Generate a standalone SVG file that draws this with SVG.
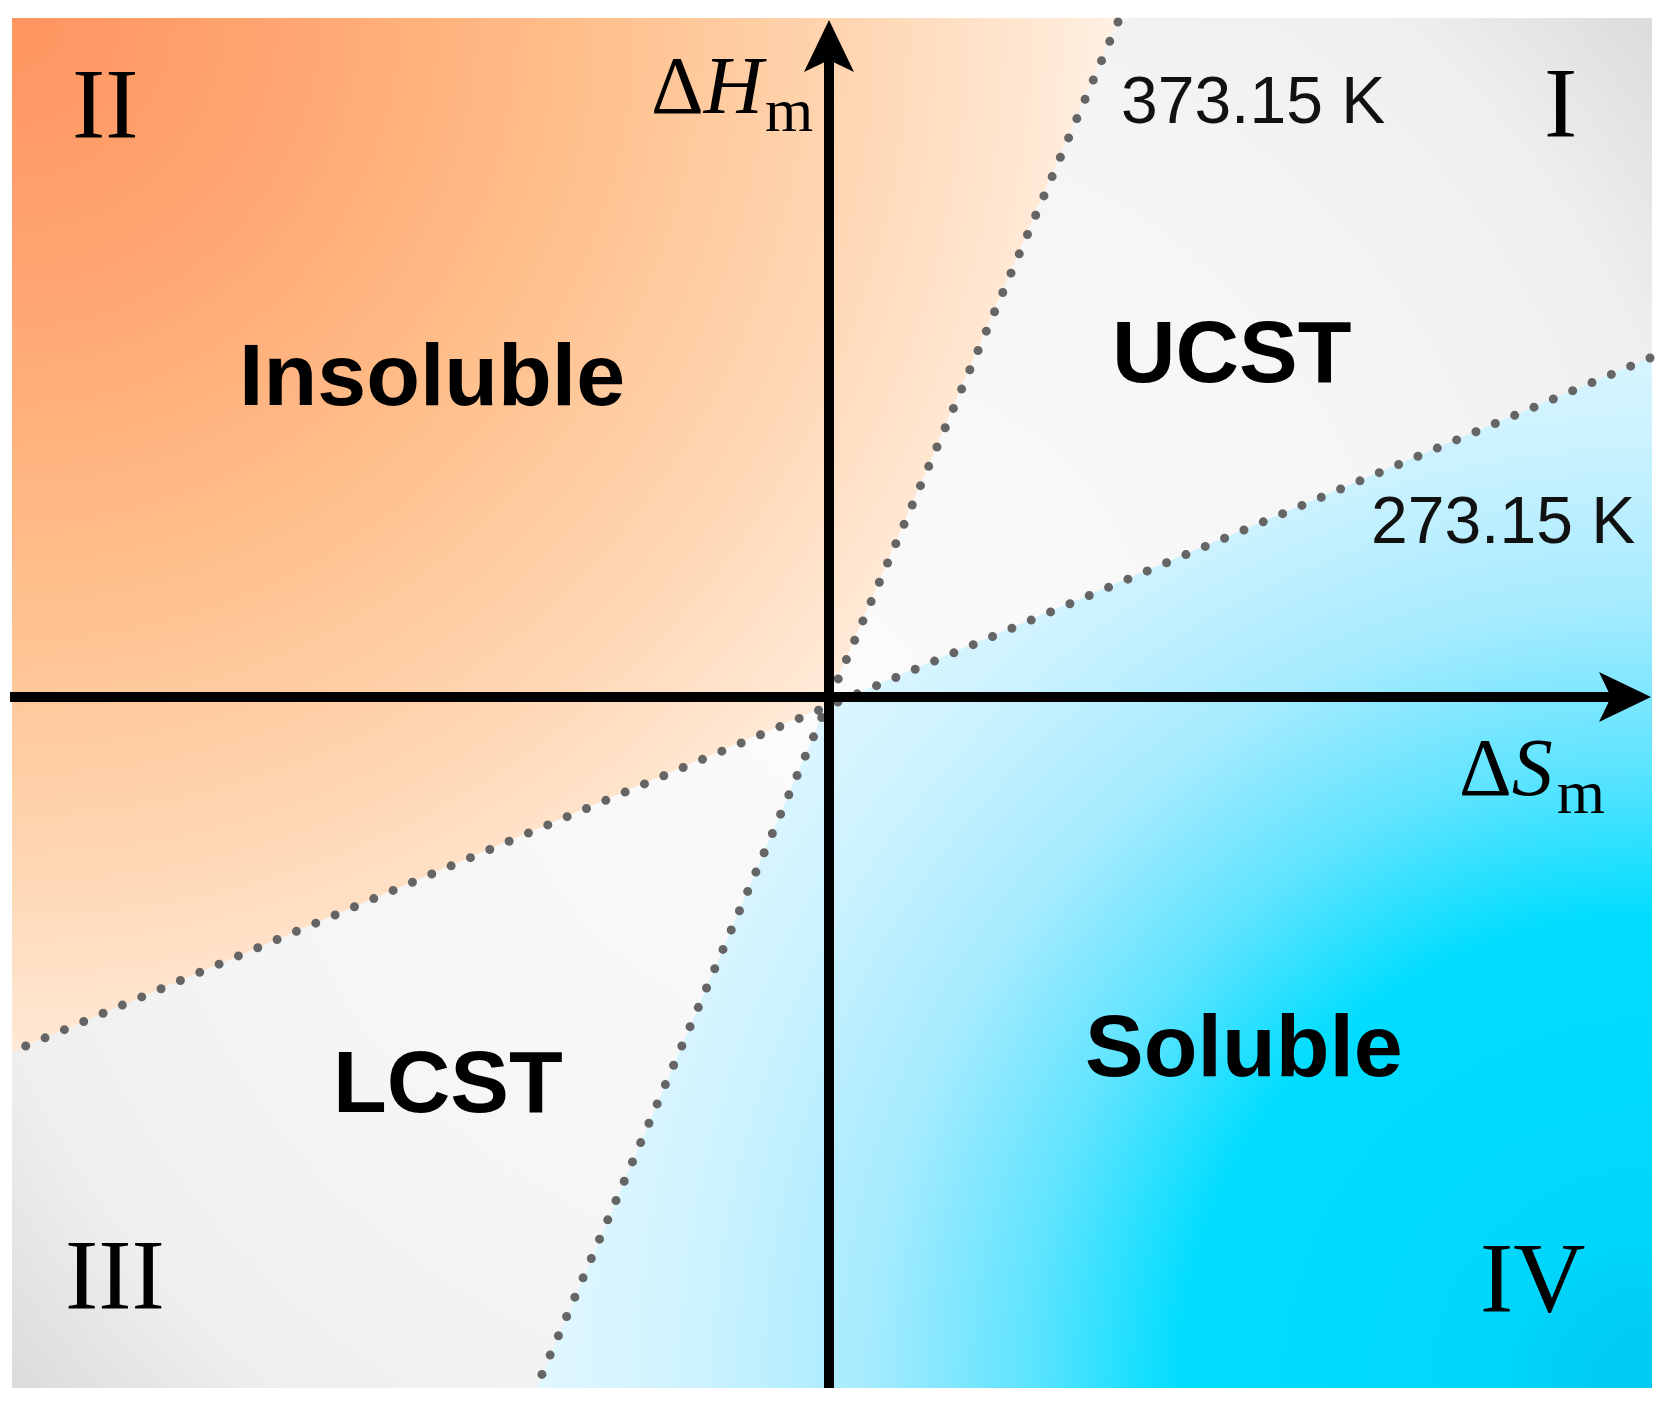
<svg xmlns="http://www.w3.org/2000/svg" width="1668" height="1413" viewBox="0 0 1668 1413">
  <style>
    .bold { font-family: "Liberation Sans", Arial, sans-serif; font-weight: bold; font-size: 88px; fill: #000; }
    .temp { font-family: "Liberation Sans", Arial, sans-serif; font-size: 66px; fill: #111; }
    .roman { font-family: "Liberation Serif", "Times New Roman", serif; font-size: 100px; fill: #000; }
    .math { font-family: "Liberation Serif", "Times New Roman", serif; font-size: 82px; fill: #000; }
    .axis { stroke: #000; stroke-width: 10; fill: none; }
    .dots { stroke: #656565; stroke-width: 9; stroke-linecap: round; stroke-dasharray: 0 21; fill: none; }
  </style>
  <defs>
    <radialGradient id="gGray" gradientUnits="userSpaceOnUse" cx="829" cy="697" r="1100">
      <stop offset="0" stop-color="#FBFBFB"/>
      <stop offset="0.55" stop-color="#F5F5F5"/>
      <stop offset="0.8" stop-color="#EFEFEF"/>
      <stop offset="1" stop-color="#D8D8D8"/>
    </radialGradient>
    <radialGradient id="gOrange" gradientUnits="userSpaceOnUse" cx="12" cy="18" r="1120">
      <stop offset="0" stop-color="#FF9460"/>
      <stop offset="0.25" stop-color="#FFA672"/>
      <stop offset="0.5" stop-color="#FFBE8A"/>
      <stop offset="0.75" stop-color="#FFD6B2"/>
      <stop offset="0.92" stop-color="#FFE8D4"/>
      <stop offset="1" stop-color="#FFF2E6"/>
    </radialGradient>
    <radialGradient id="gBlue" gradientUnits="userSpaceOnUse" cx="1652" cy="1388" r="1120">
      <stop offset="0" stop-color="#00C8F2"/>
      <stop offset="0.15" stop-color="#00D6FC"/>
      <stop offset="0.42" stop-color="#00DDFF"/>
      <stop offset="0.56" stop-color="#60E4FF"/>
      <stop offset="0.7" stop-color="#A6EBFF"/>
      <stop offset="0.85" stop-color="#CCF2FF"/>
      <stop offset="1" stop-color="#E2F7FF"/>
    </radialGradient>
    <marker id="arrow" viewBox="0 0 52 50" refX="12" refY="25" markerWidth="52" markerHeight="50" markerUnits="userSpaceOnUse" orient="auto">
      <path d="M0,0 L52,25 L0,50 L12,25 Z" fill="#000"/>
    </marker>
  </defs>

  <g id="background">
    <rect x="12" y="18" width="1640" height="1370" fill="url(#gGray)"/>
    <path d="M826,706 L1118,18 L12,18 L12,1052 Z" fill="url(#gOrange)"/>
    <path d="M826,706 L1652,357 L1652,1388 L537,1388 Z" fill="url(#gBlue)"/>
  </g>

  <g id="connectors">
    <line id="line-373" class="dots" x1="1118" y1="22" x2="537" y2="1386"/>
    <line id="line-273" class="dots" x1="1650" y1="358" x2="14" y2="1051"/>
    <line id="axis-x" class="axis" x1="10" y1="697" x2="1611" y2="697" marker-end="url(#arrow)"/>
    <line id="axis-y" class="axis" x1="829" y1="1388" x2="829" y2="60" marker-end="url(#arrow)"/>
  </g>

  <g id="quadrant-I">
    <text class="roman" x="1544" y="136">I</text>
  </g>
  <g id="quadrant-II">
    <text class="roman" x="72" y="137">II</text>
  </g>
  <g id="quadrant-III">
    <text class="roman" x="65" y="1308">III</text>
  </g>
  <g id="quadrant-IV">
    <text class="roman" x="1480" y="1311">IV</text>
  </g>

  <g id="insoluble">
    <text class="bold" x="239" y="405">Insoluble</text>
  </g>
  <g id="ucst">
    <text class="bold" x="1112" y="382">UCST</text>
  </g>
  <g id="lcst">
    <text class="bold" x="333" y="1112">LCST</text>
  </g>
  <g id="soluble">
    <text class="bold" x="1085" y="1076">Soluble</text>
  </g>

  <g id="label-373">
    <text class="temp" x="1121" y="123">373.15 K</text>
  </g>
  <g id="label-273">
    <text class="temp" x="1371" y="543">273.15 K</text>
  </g>

  <g id="label-dH">
    <text class="math" x="651" y="113">Δ<tspan font-style="italic">H</tspan><tspan font-size="62" dx="2" dy="18">m</tspan></text>
  </g>
  <g id="label-dS">
    <text class="math" x="1459" y="795">Δ<tspan font-style="italic">S</tspan><tspan font-size="62" dx="4" dy="18">m</tspan></text>
  </g>
</svg>
